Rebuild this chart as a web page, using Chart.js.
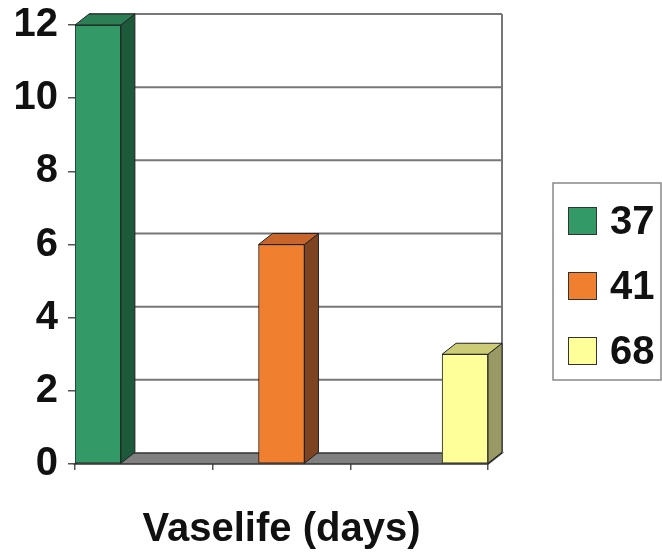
<!DOCTYPE html>
<html>
<head>
<meta charset="utf-8">
<script src="https://cdn.jsdelivr.net/npm/chart.js@4/dist/chart.umd.min.js"></script>
<style>
  html, body { margin: 0; padding: 0; background: #ffffff; }
  #wrap { width: 662px; height: 556px; position: relative; }
</style>
</head>
<body>
<div id="wrap"><canvas id="c" width="662" height="556"></canvas></div>
<script>
// ---- data ----
const categories = ['', '', ''];
const seriesLabels = ['37', '41', '68'];
const seriesValues = [12, 6, 3];
const yTicks = [0, 2, 4, 6, 8, 10, 12];
const axisTitle = 'Vaselife (days)';

// ---- styles ----
const frontColors = ['#339966', '#F07F30', '#FFFF99'];
const sideColors  = ['#1D5A3B', '#7E4320', '#999966'];
const topColors   = ['#2C7F55', '#C8652A', '#CCCC77'];
const edgeColor = '#222222';
const DX = 14, DY = -11;
const FONT = '"Liberation Sans", Arial, Helvetica, sans-serif';

const datasets = seriesLabels.map((lab, i) => ({
  label: lab,
  data: categories.map((c, j) => (j === i ? seriesValues[i] : null)),
  backgroundColor: frontColors[i],
  borderColor: edgeColor,
  borderWidth: 1,
  borderSkipped: false,
  categoryPercentage: 1.0,
  barPercentage: 1.0
}));

const threeD = {
  id: 'threeD',
  beforeDatasetsDraw(chart) {
    const ctx = chart.ctx;
    const {left, right, top, bottom} = chart.chartArea;
    const y = chart.scales.y;
    ctx.save();
    // floor
    ctx.beginPath();
    ctx.moveTo(left, bottom);
    ctx.lineTo(right, bottom);
    ctx.lineTo(right + DX, bottom + DY);
    ctx.lineTo(left + DX, bottom + DY);
    ctx.closePath();
    ctx.fillStyle = '#808080';
    ctx.fill();
    ctx.strokeStyle = '#333333';
    ctx.lineWidth = 1.5;
    ctx.stroke();
    // back wall grid lines
    ctx.strokeStyle = '#777777';
    ctx.lineWidth = 2;
    yTicks.forEach(v => {
      if (v === 0) return;
      const py = y.getPixelForValue(v) + DY;
      ctx.beginPath();
      ctx.moveTo(left + DX, py);
      ctx.lineTo(right + DX, py);
      ctx.stroke();
    });
    // back wall right edge
    ctx.beginPath();
    ctx.moveTo(right + DX, y.getPixelForValue(yTicks[yTicks.length - 1]) + DY);
    ctx.lineTo(right + DX, bottom + DY);
    ctx.stroke();
    ctx.restore();
  },
  afterDatasetsDraw(chart) {
    const ctx = chart.ctx;
    ctx.save();
    ctx.lineWidth = 1;
    ctx.strokeStyle = edgeColor;
    chart.data.datasets.forEach((ds, i) => {
      const meta = chart.getDatasetMeta(i);
      meta.data.forEach((bar, j) => {
        if (ds.data[j] == null) return;
        const p = bar.getProps(['x', 'y', 'base', 'width'], true);
        const l = p.x - p.width / 2, r = p.x + p.width / 2;
        const t = p.y, b = p.base;
        // side
        ctx.beginPath();
        ctx.moveTo(r, t);
        ctx.lineTo(r + DX, t + DY);
        ctx.lineTo(r + DX, b + DY);
        ctx.lineTo(r, b);
        ctx.closePath();
        ctx.fillStyle = sideColors[i];
        ctx.fill();
        ctx.stroke();
        // top
        ctx.beginPath();
        ctx.moveTo(l, t);
        ctx.lineTo(l + DX, t + DY);
        ctx.lineTo(r + DX, t + DY);
        ctx.lineTo(r, t);
        ctx.closePath();
        ctx.fillStyle = topColors[i];
        ctx.fill();
        ctx.stroke();
      });
    });
    ctx.restore();
  },
  afterDraw(chart) {
    // legend box
    const ctx = chart.ctx;
    ctx.save();
    const bx = 553, by = 183, bw = 108, bh = 197;
    ctx.strokeStyle = '#888888';
    ctx.lineWidth = 1.5;
    ctx.strokeRect(bx, by, bw, bh);
    ctx.font = 'bold 40px ' + FONT;
    ctx.textBaseline = 'middle';
    ctx.textAlign = 'left';
    chart.data.datasets.forEach((ds, i) => {
      const cy = 221 + i * 65;
      ctx.fillStyle = ds.backgroundColor;
      ctx.fillRect(568, cy - 14, 29, 28);
      ctx.strokeStyle = '#333333';
      ctx.lineWidth = 1;
      ctx.strokeRect(568.5, cy - 13.5, 28, 27);
      ctx.fillStyle = '#111111';
      ctx.fillText(ds.label, 610, cy + 2);
    });
    ctx.restore();
  }
};

new Chart(document.getElementById('c'), {
  type: 'bar',
  data: { labels: categories, datasets },
  plugins: [threeD],
  options: {
    responsive: false,
    animation: false,
    layout: { padding: { top: 0, right: 174, left: 0, bottom: 0 } },
    plugins: { legend: { display: false }, tooltip: { enabled: false } },
    scales: {
      x: {
        grid: { drawOnChartArea: false, drawTicks: true, tickLength: 6, color: '#555555', lineWidth: 1.5 },
        border: { display: false },
        ticks: { callback: () => '', font: { size: 10 } },
        title: { display: true, text: axisTitle, color: '#111111', font: { family: FONT, size: 40, weight: 'bold' }, padding: { top: 0, bottom: 2 } },
        afterFit(s) { s.height = 92; }
      },
      y: {
        min: 0, max: 12,
        afterBuildTicks(s) { s.ticks = yTicks.map(v => ({ value: v })); },
        grid: { drawOnChartArea: false, drawTicks: true, tickLength: 7, color: '#555555', lineWidth: 1.5 },
        border: { display: false },
        ticks: { color: '#111111', padding: 10, font: { family: FONT, size: 40, weight: 'bold' } },
        afterFit(s) { s.width = 75; s.paddingTop = 25; s.paddingBottom = 0; }
      }
    }
  }
});
</script>
</body>
</html>
